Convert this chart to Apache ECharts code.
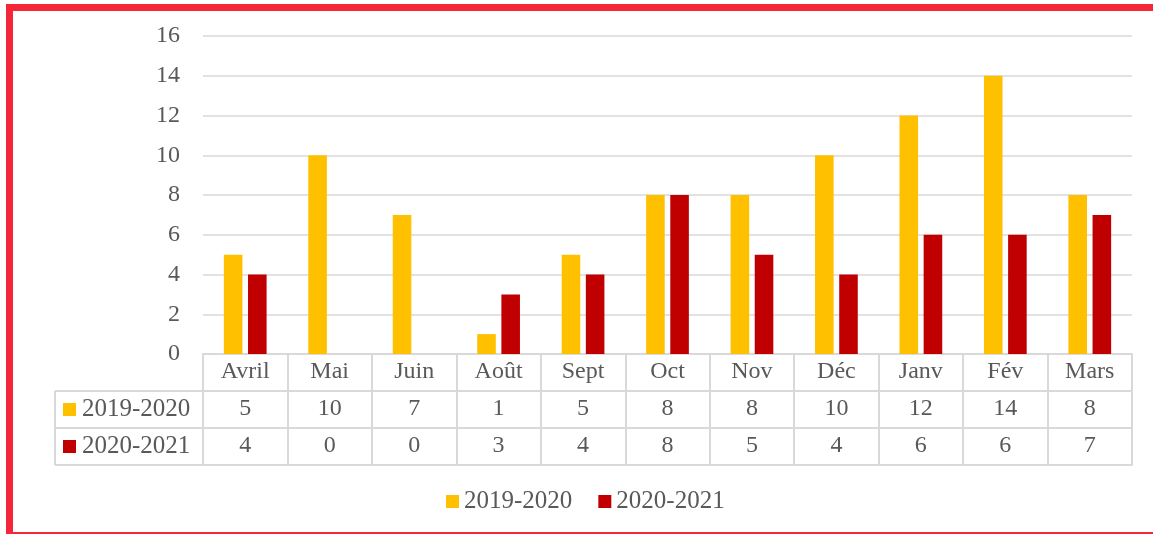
<!DOCTYPE html>
<html>
<head>
<meta charset="utf-8">
<script src="https://cdn.jsdelivr.net/npm/echarts@6/dist/echarts.min.js"></script>
<style>
  html,body{margin:0;padding:0;background:#fff;overflow:hidden;}
  #chart{position:absolute;left:0;top:0;width:1153px;height:534px;}
  #frame{position:absolute;left:6px;top:4px;width:1160px;height:521px;border:7px solid #f5253a;pointer-events:none;}
</style>
</head>
<body>
<div id="chart"></div>
<div id="frame"></div>
<script>
// données
var mois = ['Avril','Mai','Juin','Août','Sept','Oct','Nov','Déc','Janv','Fév','Mars'];
var saisons = ['2019-2020','2020-2021'];
var val2019 = [5,10,7,1,5,8,8,10,12,14,8];
var val2020 = [4,0,0,3,4,8,5,4,6,6,7];
var couleurs = ['#FFC000','#C00000'];

var police = 'Liberation Serif';
var gris = '#595959';
var trait = '#d9d9d9';
// mise en page du tableau
var gLeft = 203, gRight = 21, gTop = 36, gBottom = 180;
var rowH = 37, colLeft = 55;
var yAxe = 534 - gBottom;

var myChart = echarts.init(document.getElementById('chart'));

function axeTable(offset, vals, showLabel){
  return {
    type:'category', data: mois, position:'bottom', offset: offset,
    axisLine:{show:true, lineStyle:{color:trait, width:2}},
    axisTick:{show:false},
    axisLabel:{show:showLabel, margin:6, color:gris, fontFamily:police, fontSize:24,
      formatter:function(v, i){ return vals ? String(vals[i]) : v; }}
  };
}

// colonne de gauche (noms des séries)
var graphics = [];
graphics.push({type:'line', shape:{x1:colLeft, y1:yAxe+rowH, x2:colLeft, y2:yAxe+3*rowH}, style:{stroke:trait, lineWidth:2}});
for(var r=1;r<=3;r++){
  graphics.push({type:'line', shape:{x1:colLeft, y1:yAxe+r*rowH, x2:gLeft, y2:yAxe+r*rowH}, style:{stroke:trait, lineWidth:2}});
}
for(var k=0;k<saisons.length;k++){
  var cy = yAxe + (k+1)*rowH + rowH/2;
  graphics.push({type:'rect', shape:{x:63, y:cy-6.5, width:13, height:13}, style:{fill:couleurs[k]}});
  graphics.push({type:'text', x:82, y:cy, style:{text:saisons[k], fill:gris, font:'25px "'+police+'"', verticalAlign:'middle'}});
}

var option = {
  animation:false,
  textStyle:{fontFamily:police},
  grid:{left:gLeft, right:gRight, top:gTop, bottom:gBottom, containLabel:false},
  legend:{
    data:saisons, left:441, top:484, itemWidth:13, itemHeight:13, itemGap:26,
    icon:'rect',
    textStyle:{color:gris, fontFamily:police, fontSize:25}
  },
  xAxis:[
    {
      type:'category', data:mois, position:'bottom',
      axisLine:{show:true, lineStyle:{color:trait, width:2}},
      axisTick:{show:true, length:3*rowH, interval:0, lineStyle:{color:trait, width:2}},
      axisLabel:{margin:6, color:gris, fontFamily:police, fontSize:24, interval:0}
    },
    axeTable(rowH, val2019, true),
    axeTable(2*rowH, val2020, true),
    axeTable(3*rowH, null, false)
  ],
  yAxis:{
    type:'value', min:0, max:16, interval:2,
    axisLine:{show:false}, axisTick:{show:false},
    axisLabel:{color:gris, fontFamily:police, fontSize:24, margin:23},
    splitLine:{lineStyle:{color:trait, width:1.5}}
  },
  series:[
    {name:saisons[0], type:'bar', data:val2019, barWidth:'22%', barGap:'30%', itemStyle:{color:couleurs[0]}},
    {name:saisons[1], type:'bar', data:val2020, barWidth:'22%', barGap:'30%', itemStyle:{color:couleurs[1]}}
  ],
  graphic:graphics
};
myChart.setOption(option);
</script>
</body>
</html>
